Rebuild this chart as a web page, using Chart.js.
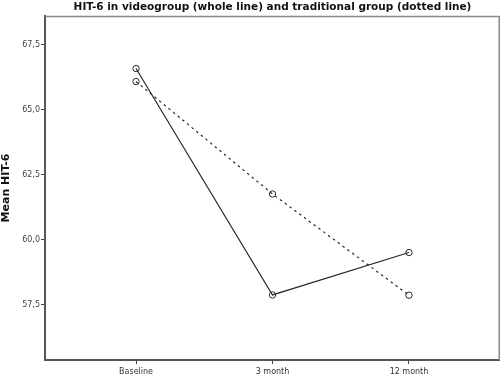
<!DOCTYPE html>
<html>
<head>
<meta charset="utf-8">
<script src="https://cdn.jsdelivr.net/npm/chart.js@4"></script>
<style>
    html, body { margin: 0; padding: 0; background: #fff; }
    #wrap { width: 500px; height: 376px; }
</style>
</head>
<body>
<div id="wrap"><canvas id="chart" width="500" height="376"></canvas></div>
<script>
const timepoints = ['Baseline', '3 month', '12 month']
const videogroup = [66.58, 57.88, 59.51]
const traditionalgroup = [66.08, 61.76, 57.87]
const yticks = [57.5, 60.0, 62.5, 65.0, 67.5]

const ink = '#2a2a2a'
const fnt = 'DejaVu Sans'

function points(values) {
    return values.map(function (v, i) { return {x: i, y: v} })
}

// thin grey top and right sides of the plot box
const frame = {
    id: 'frame',
    beforeDatasetsDraw(chart) {
        const a = chart.chartArea
        const ctx = chart.ctx
        ctx.save()
        ctx.strokeStyle = '#888888'
        ctx.lineWidth = 1.5
        ctx.beginPath()
        ctx.moveTo(a.left, a.top + 0.5)
        ctx.lineTo(a.right - 0.75, a.top + 0.5)
        ctx.lineTo(a.right - 0.75, a.bottom)
        ctx.stroke()
        ctx.restore()
    }
}

const ctx = document.getElementById('chart')
const chart = new Chart(ctx, {
    type: 'line',
    data: {
        datasets: [{
            label: 'videogroup',
            data: points(videogroup),
            borderColor: ink,
            borderWidth: 1.2,
            pointStyle: 'circle',
            pointRadius: 3.2,
            pointBorderWidth: 1,
            pointBorderColor: ink,
            pointBackgroundColor: 'rgba(0,0,0,0)',
            tension: 0
        }, {
            label: 'traditional group',
            data: points(traditionalgroup),
            borderColor: ink,
            borderWidth: 1.2,
            borderDash: [2.5, 3.5],
            pointStyle: 'circle',
            pointRadius: 3.2,
            pointBorderWidth: 1,
            pointBorderColor: ink,
            pointBackgroundColor: 'rgba(0,0,0,0)',
            tension: 0
        }]
    },
    options: {
        animation: false,
        responsive: false,
        layout: {padding: 0, autoPadding: false},
        plugins: {
            legend: {display: false},
            tooltip: {enabled: false},
            title: {
                display: true,
                fullSize: false,
                text: 'HIT-6 in videogroup (whole line) and traditional group (dotted line)',
                color: '#111',
                font: {family: fnt, size: 10.5, weight: 'bold', lineHeight: 1.2},
                padding: {top: 1, bottom: 2.4}
            }
        },
        scales: {
            x: {
                type: 'linear',
                min: -0.667,
                max: 2.667,
                afterBuildTicks(scale) {
                    scale.ticks = timepoints.map(function (t, i) { return {value: i} })
                },
                afterFit(scale) {
                    scale.height = 16
                    scale.paddingLeft = 0
                    scale.paddingRight = 0
                },
                grid: {drawOnChartArea: false, tickLength: 4, color: '#444'},
                border: {color: '#555', width: 2},
                ticks: {
                    color: '#333',
                    padding: 3,
                    maxRotation: 0,
                    autoSkip: false,
                    font: {family: fnt, size: 8},
                    callback: function (v) { return timepoints[v] }
                }
            },
            y: {
                min: 55.38,
                max: 68.6,
                afterBuildTicks(scale) {
                    scale.ticks = yticks.map(function (v) { return {value: v} })
                },
                afterFit(scale) { scale.width = 45 },
                grid: {drawOnChartArea: false, tickLength: 4, color: '#444'},
                border: {color: '#555', width: 2},
                title: {
                    display: true,
                    text: 'Mean HIT-6',
                    color: '#111',
                    font: {family: fnt, size: 11, weight: 'bold'},
                    padding: {top: 0, bottom: 0}
                },
                ticks: {
                    color: '#444',
                    padding: 1,
                    font: {family: fnt, size: 8},
                    callback: function (v) { return v.toFixed(1).replace('.', ',') }
                }
            }
        }
    },
    plugins: [frame]
})
</script>
</body>
</html>
